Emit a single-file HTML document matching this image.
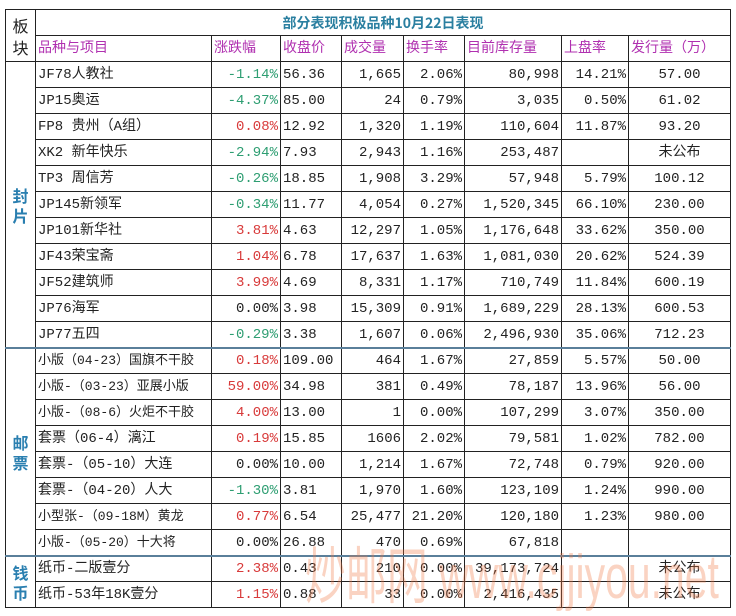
<!DOCTYPE html>
<html><head><meta charset="utf-8"><style>
body{margin:0;background:#fff;width:736px;height:616px;overflow:hidden;position:relative}
table{position:absolute;left:5px;top:9px;border-collapse:collapse;table-layout:fixed;font-family:"Liberation Mono","Noto Sans CJK SC",monospace;font-size:14px;color:#222}
td{border:1px solid #222;height:25px;padding:0 2px;white-space:nowrap;overflow:hidden;line-height:24px}
.r{text-align:right}.c{text-align:center}
.h td{color:#b030b0}
.g{color:#2e9e72}.red{color:#d83a3a}
.sec{color:#2a7fb0;font-weight:bold;text-align:center;font-size:16px;line-height:20px;font-family:"Noto Sans CJK SC",sans-serif}
.sep td{border-top:2px solid #5a7f9a;height:24px}
.s{font-size:13px}
.wm{position:absolute;left:305px;top:545px;font-family:"Liberation Sans","Noto Sans CJK SC",sans-serif;font-size:62px;color:rgba(240,120,70,0.33);white-space:nowrap;line-height:66px;transform:scaleX(0.66);transform-origin:0 0}
</style></head><body>
<table>
<colgroup><col style="width:30px"><col style="width:176px"><col style="width:69px"><col style="width:61px"><col style="width:62px"><col style="width:61px"><col style="width:97px"><col style="width:67px"><col style="width:102px"></colgroup>
<tr><td rowspan="2" style="text-align:center;line-height:22px;font-size:16px;font-family:'Noto Sans CJK SC',sans-serif">板<br>块</td><td colspan="8" class="c" style="color:#2a7fa0;font-weight:bold;font-family:'Noto Sans CJK SC',sans-serif">部分表现积极品种10月22日表现</td></tr>
<tr class="h"><td>品种与项目</td><td>涨跌幅</td><td>收盘价</td><td>成交量</td><td>换手率</td><td>目前库存量</td><td>上盘率</td><td>发行量（万）</td></tr>
<tr><td rowspan="11" class="sec">封<br>片</td><td>JF78人教社</td><td class="r g">-1.14%</td><td>56.36</td><td class="r">1,665</td><td class="r">2.06%</td><td class="r">80,998</td><td class="r">14.21%</td><td class="c">57.00</td></tr>
<tr><td>JP15奥运</td><td class="r g">-4.37%</td><td>85.00</td><td class="r">24</td><td class="r">0.79%</td><td class="r">3,035</td><td class="r">0.50%</td><td class="c">61.02</td></tr>
<tr><td>FP8 贵州（A组）</td><td class="r red">0.08%</td><td>12.92</td><td class="r">1,320</td><td class="r">1.19%</td><td class="r">110,604</td><td class="r">11.87%</td><td class="c">93.20</td></tr>
<tr><td>XK2 新年快乐</td><td class="r g">-2.94%</td><td>7.93</td><td class="r">2,943</td><td class="r">1.16%</td><td class="r">253,487</td><td class="r"></td><td class="c">未公布</td></tr>
<tr><td>TP3 周信芳</td><td class="r g">-0.26%</td><td>18.85</td><td class="r">1,908</td><td class="r">3.29%</td><td class="r">57,948</td><td class="r">5.79%</td><td class="c">100.12</td></tr>
<tr><td>JP145新领军</td><td class="r g">-0.34%</td><td>11.77</td><td class="r">4,054</td><td class="r">0.27%</td><td class="r">1,520,345</td><td class="r">66.10%</td><td class="c">230.00</td></tr>
<tr><td>JP101新华社</td><td class="r red">3.81%</td><td>4.63</td><td class="r">12,297</td><td class="r">1.05%</td><td class="r">1,176,648</td><td class="r">33.62%</td><td class="c">350.00</td></tr>
<tr><td>JF43荣宝斋</td><td class="r red">1.04%</td><td>6.78</td><td class="r">17,637</td><td class="r">1.63%</td><td class="r">1,081,030</td><td class="r">20.62%</td><td class="c">524.39</td></tr>
<tr><td>JF52建筑师</td><td class="r red">3.99%</td><td>4.69</td><td class="r">8,331</td><td class="r">1.17%</td><td class="r">710,749</td><td class="r">11.84%</td><td class="c">600.19</td></tr>
<tr><td>JP76海军</td><td class="r">0.00%</td><td>3.98</td><td class="r">15,309</td><td class="r">0.91%</td><td class="r">1,689,229</td><td class="r">28.13%</td><td class="c">600.53</td></tr>
<tr><td>JP77五四</td><td class="r g">-0.29%</td><td>3.38</td><td class="r">1,607</td><td class="r">0.06%</td><td class="r">2,496,930</td><td class="r">35.06%</td><td class="c">712.23</td></tr>
<tr class="sep"><td rowspan="8" class="sec">邮<br>票</td><td class="s">小版（04-23）国旗不干胶</td><td class="r red">0.18%</td><td>109.00</td><td class="r">464</td><td class="r">1.67%</td><td class="r">27,859</td><td class="r">5.57%</td><td class="c">50.00</td></tr>
<tr><td class="s">小版-（03-23）亚展小版</td><td class="r red">59.00%</td><td>34.98</td><td class="r">381</td><td class="r">0.49%</td><td class="r">78,187</td><td class="r">13.96%</td><td class="c">56.00</td></tr>
<tr><td class="s">小版-（08-6）火炬不干胶</td><td class="r red">4.00%</td><td>13.00</td><td class="r">1</td><td class="r">0.00%</td><td class="r">107,299</td><td class="r">3.07%</td><td class="c">350.00</td></tr>
<tr><td>套票（06-4）漓江</td><td class="r red">0.19%</td><td>15.85</td><td class="r">1606</td><td class="r">2.02%</td><td class="r">79,581</td><td class="r">1.02%</td><td class="c">782.00</td></tr>
<tr><td>套票-（05-10）大连</td><td class="r">0.00%</td><td>10.00</td><td class="r">1,214</td><td class="r">1.67%</td><td class="r">72,748</td><td class="r">0.79%</td><td class="c">920.00</td></tr>
<tr><td>套票-（04-20）人大</td><td class="r g">-1.30%</td><td>3.81</td><td class="r">1,970</td><td class="r">1.60%</td><td class="r">123,109</td><td class="r">1.24%</td><td class="c">990.00</td></tr>
<tr><td class="s">小型张-（09-18M）黄龙</td><td class="r red">0.77%</td><td>6.54</td><td class="r">25,477</td><td class="r">21.20%</td><td class="r">120,180</td><td class="r">1.23%</td><td class="c">980.00</td></tr>
<tr><td class="s">小版-（05-20）十大将</td><td class="r">0.00%</td><td>26.88</td><td class="r">470</td><td class="r">0.69%</td><td class="r">67,818</td><td class="r"></td><td class="c"></td></tr>
<tr class="sep"><td rowspan="2" class="sec">钱<br>币</td><td>纸币-二版壹分</td><td class="r red">2.38%</td><td>0.43</td><td class="r">210</td><td class="r">0.00%</td><td class="r">39,173,724</td><td class="r"></td><td class="c">未公布</td></tr>
<tr><td>纸币-53年18K壹分</td><td class="r red">1.15%</td><td>0.88</td><td class="r">33</td><td class="r">0.00%</td><td class="r">2,416,435</td><td class="r"></td><td class="c">未公布</td></tr>
</table>
<div class="wm">炒邮网 www.cjjiyou.net</div>
</body></html>
